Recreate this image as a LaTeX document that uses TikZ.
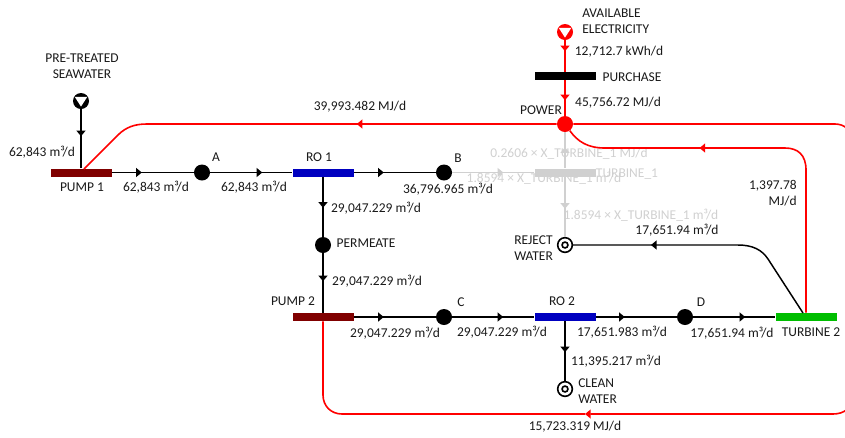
\documentclass[tikz,border=0pt]{standalone}
\usepackage{fontspec}
\setmainfont{Carlito}
\usepackage{tikz}
\usetikzlibrary{arrows.meta,decorations.markings}
\definecolor{pumpred}{RGB}{128,0,0}
\definecolor{roblue}{RGB}{0,0,192}
\definecolor{turbgreen}{RGB}{0,190,0}
\definecolor{ink}{RGB}{25,25,25}
\definecolor{ghost}{RGB}{208,208,208}
\tikzstyle{txt}=[font=\fontsize{10.1}{12}\selectfont, text=ink, inner sep=0pt]
\tikzstyle{ghosttxt}=[font=\fontsize{10.1}{12}\selectfont, text=ghost, inner sep=0pt]
\tikzstyle{bar}=[rectangle, fill=#1, inner sep=0pt, minimum width=45.75pt, minimum height=6pt]
\tikzstyle{junction}=[circle, fill=#1, inner sep=0pt, minimum size=12pt]
\tikzstyle{source}=[circle, fill=#1, inner sep=0pt, minimum size=12pt, path picture={
    \fill[white] ([shift={(-6.3,-4.2)}]path picture bounding box.center)
        -- ([shift={(6.3,-4.2)}]path picture bounding box.center)
        -- ([shift={(0,5.6)}]path picture bounding box.center) -- cycle;
}]
\tikzstyle{sink}=[circle, fill=white, draw=black, line width=1.2pt, inner sep=0pt, minimum size=11pt, path picture={
    \draw[black, line width=1.2pt] (path picture bounding box.center) circle (2.2pt);
}]
\tikzstyle{flow}=[postaction={decorate, decoration={markings,
    mark=at position #1*0.75pt with {\arrow{Triangle[length=4.2pt, width=6.6pt]}}}}]
\tikzstyle{water}=[draw=black, line width=1.1pt]
\tikzstyle{power}=[draw=red, line width=1.2pt, color=red]
\tikzstyle{faded}=[draw=ghost, line width=1.2pt, color=ghost]
\begin{document}
\begin{tikzpicture}[x=0.75pt, y=-0.75pt]
    \useasboundingbox (0,0) rectangle (845,437);
    \clip (0,0) rectangle (845,437);
    % units
    \node[source=black] (seawater) at (81,101) {};
    \node[bar=pumpred] (pump1) at (81,172.5) {};
    \node[junction=black] (a) at (202,172.5) {};
    \node[bar=roblue] (ro1) at (323,172.5) {};
    \node[junction=black] (b) at (444,172.5) {};
    \node[bar=ghost] (turbine1) at (565,172.5) {};
    \node[junction=black] (permeate) at (323,245) {};
    \node[bar=pumpred] (pump2) at (323,317) {};
    \node[junction=black] (c) at (444,317) {};
    \node[bar=roblue] (ro2) at (565,317) {};
    \node[junction=black] (d) at (685,317) {};
    \node[bar=turbgreen] (turbine2) at (806,317) {};
    \node[sink] (reject) at (565,245) {};
    \node[sink] (clean) at (565,389) {};
    \node[source=red] (electricity) at (565,32) {};
    \node[bar=black] (purchase) at (565,76) {};
    \node[junction=red] (grid) at (565,124) {};
    \coordinate (pump1tap) at (84,169);
    \coordinate (turbine2tap) at (803,313);
    \coordinate (edgetop) at (852,140);
    \coordinate (edgebottom) at (852,398);
    \coordinate (bottommid) at (585,414);
    \coordinate (bottomleft) at (342,414);
    % faded part
    \draw[faded, flow=51] (b)--(turbine1);
    \draw[faded, flow=21] (turbine1)--(grid);
    \draw[faded, flow=32] (turbine1)--(reject);
    \node[ghosttxt] (g1) at (569,154) {0.2606 × X\_TURBINE\_1 MJ/d};
    \node[ghosttxt] (g2) at (544,178) {1.8594 × X\_TURBINE\_1 m³/d};
    \node[ghosttxt] (g3) at (627,174) {TURBINE\_1};
    \node[ghosttxt] (g4) at (641,215) {1.8594 × X\_TURBINE\_1 m³/d};
    % water
    \draw[water, flow=27] (seawater)--(pump1);
    \draw[water, flow=30] (pump1)--(a);
    \draw[water, flow=52] (a)--(ro1);
    \draw[water, flow=30] (ro1)--(b);
    \draw[water, flow=31] (ro1)--(permeate);
    \draw[water, flow=28] (permeate)--(pump2);
    \draw[water, flow=30] (pump2)--(c);
    \draw[water, flow=51] (c)--(ro2);
    \draw[water, flow=29] (ro2)--(d);
    \draw[water, flow=52] (d)--(turbine2);
    \draw[water, flow=31] (ro2)--(clean);
    \draw[water, flow=186]
        (turbine2tap) -- (768,259) .. controls (762,250) and (753,245) .. (738,245) -- (reject);
    % power
    \draw[power, flow=11] (electricity)--(purchase);
    \draw[power, flow=20] (purchase)--(grid);
    \draw[power, flow=200]
        (grid) -- (147,124) .. controls (135,124) and (126,127) .. (118,135) -- (pump1tap);
    \draw[power, flow=263]
        (turbine2) -- (806,170) .. controls (806,155) and (798,148) .. (785,148) -- (605,148)
        .. controls (588,148) and (578,142) .. (grid);
    \draw[power]
        (grid) -- (835,124) .. controls (844,124) and (852,130) .. (edgetop);
    \draw[power, -{Triangle[length=4.2pt, width=6.6pt]}]
        (edgebottom) .. controls (852,408) and (844,414) .. (833,414) -- (bottommid);
    \draw[power] (bottommid)--(bottomleft)
        .. controls (331,414) and (323,406) .. (323,395) -- (pump2);
    % labels
    \node[txt, align=center] (lseawater) at (82,66) {PRE-TREATED\\SEAWATER};
    \node[txt] (l1) at (42,152) {62,843 m³/d};
    \node[txt] (lpump1) at (82,187) {PUMP 1};
    \node[txt] (l2) at (156,187) {62,843 m³/d};
    \node[txt] (la) at (216,157) {A};
    \node[txt] (l3) at (254,187) {62,843 m³/d};
    \node[txt] (lro1) at (319,157) {RO 1};
    \node[txt] (lb) at (458,158) {B};
    \node[txt] (l4) at (448,189) {36,796.965 m³/d};
    \node[txt] (l5) at (376,208) {29,047.229 m³/d};
    \node[txt] (lpermeate) at (366,243) {PERMEATE};
    \node[txt] (l6) at (377,281) {29,047.229 m³/d};
    \node[txt] (lpump2) at (293,301) {PUMP 2};
    \node[txt] (l7) at (395,333) {29,047.229 m³/d};
    \node[txt] (lc) at (461,302) {C};
    \node[txt] (l8) at (502,332) {29,047.229 m³/d};
    \node[txt] (lro2) at (562,301) {RO 2};
    \node[txt] (l9) at (622,332) {17,651.983 m³/d};
    \node[txt] (ld) at (701,302) {D};
    \node[txt] (l10) at (732,333) {17,651.94 m³/d};
    \node[txt] (lturbine2) at (811,332) {TURBINE 2};
    \node[txt] (l11) at (616,361) {11,395.217 m³/d};
    \node[txt, align=left, anchor=west] (lclean) at (578,391) {CLEAN\\WATER};
    \node[txt] (l12) at (575,427) {15,723.319 MJ/d};
    \node[txt, align=left, anchor=west] (lreject) at (514,248) {REJECT\\WATER};
    \node[txt] (l13) at (677,230) {17,651.94 m³/d};
    \node[txt, align=left, anchor=west] (lelectricity) at (582,21) {AVAILABLE\\ELECTRICITY};
    \node[txt] (l14) at (619,52) {12,712.7 kWh/d};
    \node[txt] (lpurchase) at (632,77) {PURCHASE};
    \node[txt] (l15) at (618,103) {45,756.72 MJ/d};
    \node[txt] (lgrid) at (541,110) {POWER};
    \node[txt] (l16) at (360,107) {39,993.482 MJ/d};
    \node[txt, align=right, anchor=east] (l17) at (797,193) {1,397.78\\MJ/d};
\end{tikzpicture}
\end{document}
